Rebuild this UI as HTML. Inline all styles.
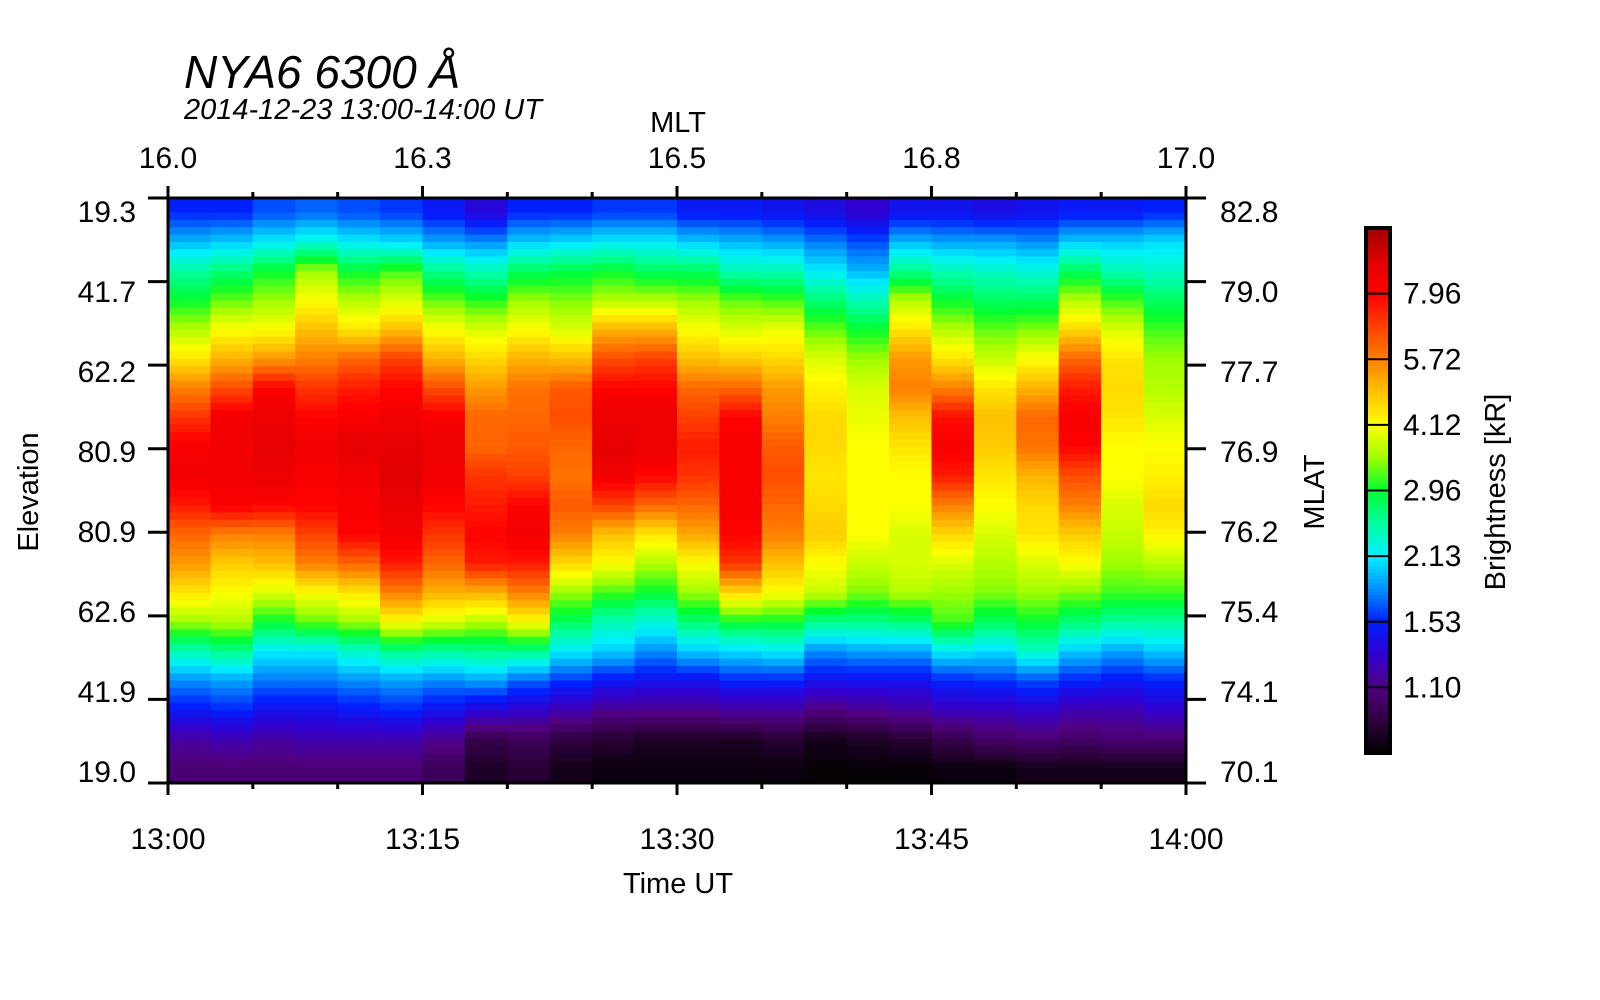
<!DOCTYPE html>
<html><head><meta charset="utf-8"><style>
body{margin:0;background:#fff;}
svg{display:block;font-family:"Liberation Sans",sans-serif;}
</style></head><body>
<svg id="chart" width="1600" height="1000" viewBox="0 0 1600 1000" xmlns="http://www.w3.org/2000/svg">
<text x="184" y="88" font-size="46" font-style="italic">NYA6 6300 Å</text>
<text x="184" y="119" font-size="29" font-style="italic">2014-12-23 13:00-14:00 UT</text>
<text x="678" y="132" font-size="29" text-anchor="middle">MLT</text>
<text x="678" y="893" font-size="29" text-anchor="middle">Time UT</text>
<text transform="translate(38,492) rotate(-90)" font-size="29" text-anchor="middle">Elevation</text>
<text transform="translate(1324,492) rotate(-90)" font-size="29" text-anchor="middle">MLAT</text>
<text transform="translate(1505,492) rotate(-90)" font-size="29" text-anchor="middle">Brightness [kR]</text>
<g id="cells"></g>
<g id="axes"></g>
<g id="cbar"></g>
</svg>
<script>
const timeMinutes = [0,2.5,5,7.5,10,12.5,15,17.5,20,22.5,25,27.5,30,32.5,35,37.5,40,42.5,45,47.5,50,52.5,55,57.5];
const bottomTickLabels = ["13:00","13:15","13:30","13:45","14:00"];
const topTickLabels = ["16.0","16.3","16.5","16.8","17.0"];
const elevationLabels = ["19.3","41.7","62.2","80.9","80.9","62.6","41.9","19.0"];
const mlatLabels = ["82.8","79.0","77.7","76.9","76.2","75.4","74.1","70.1"];
const colorbarLabels = ["7.96","5.72","4.12","2.96","2.13","1.53","1.10"];
// brightness level (colorbar position 0..8) per time column, rows top->bottom
const levels = [
[2.0,2.7,3.5,4.0,4.6,5.2,6.0,6.6,7.1,7.2,6.8,6.2,5.8,5.2,4.5,3.4,2.5,1.9,1.2,0.9],
[2.0,2.8,3.7,4.3,5.0,5.6,6.4,7.2,7.2,7.2,7.1,6.0,5.4,5.0,4.6,3.6,2.6,2.0,1.3,0.9],
[2.2,3.0,4.0,4.5,5.0,5.8,7.0,7.3,7.4,7.3,7.0,6.0,5.5,4.8,4.0,3.0,2.4,1.8,1.2,0.9],
[2.3,3.2,4.5,5.0,5.5,6.0,6.6,7.0,7.2,7.1,7.0,6.5,6.0,5.0,4.3,3.0,2.4,1.8,1.3,0.9],
[2.2,3.0,4.0,4.6,5.2,6.2,6.8,7.1,7.4,7.2,7.1,7.0,6.2,5.2,4.5,3.3,2.5,1.9,1.3,0.9],
[2.1,2.9,4.2,4.8,5.5,6.5,7.0,7.2,7.4,7.5,7.3,7.2,6.8,6.0,5.0,3.6,2.6,2.0,1.3,0.9],
[1.9,2.6,3.6,4.3,5.0,5.6,6.4,7.1,7.3,7.2,7.0,6.6,6.2,5.6,4.8,3.5,2.5,1.8,1.1,0.7],
[1.6,2.5,3.4,4.1,4.8,5.3,5.8,6.2,6.2,6.6,6.8,7.0,6.8,5.6,4.6,3.6,2.6,1.6,0.6,0.3],
[2.0,2.8,3.8,4.5,5.0,5.6,6.1,6.2,6.3,6.5,7.0,7.2,6.8,6.0,5.0,3.6,2.3,1.5,0.7,0.4],
[2.0,2.9,3.9,4.4,4.8,5.5,6.3,6.4,6.2,6.1,6.3,6.0,5.3,4.5,3.8,3.0,2.1,1.3,0.5,0.2],
[2.1,3.0,4.0,4.6,5.6,6.4,7.0,7.3,7.4,7.2,6.5,5.5,5.0,4.2,3.4,2.8,1.9,1.1,0.4,0.1],
[2.1,3.0,3.8,4.6,5.6,6.5,7.0,7.3,7.3,7.0,6.2,5.2,4.6,4.0,3.2,2.5,1.8,1.1,0.3,0.1],
[1.9,2.8,3.8,4.5,5.0,5.5,6.2,6.5,6.8,6.6,6.2,5.7,5.0,4.5,3.7,2.8,1.8,1.1,0.3,0.1],
[1.9,2.7,3.4,4.3,4.8,5.4,6.2,7.0,7.1,7.1,7.1,7.0,6.6,5.3,4.0,2.9,2.0,1.2,0.3,0.1],
[1.8,2.6,3.4,4.2,4.9,5.3,5.8,6.0,6.3,6.4,6.2,6.0,5.5,5.0,4.0,3.0,2.0,1.2,0.4,0.1],
[1.7,2.4,3.0,3.7,4.3,4.8,5.1,5.3,5.3,5.2,5.3,5.4,5.0,4.7,3.6,2.5,1.8,1.0,0.2,0.05],
[1.5,2.2,2.7,3.4,4.0,4.5,4.8,4.9,5.0,5.0,5.0,5.0,4.7,4.4,3.6,2.6,1.8,1.1,0.3,0.05],
[1.8,2.7,3.6,4.6,5.2,5.8,6.0,5.5,5.2,5.0,5.0,4.8,4.8,4.6,3.7,2.6,1.8,1.2,0.4,0.05],
[1.8,2.6,3.4,4.0,4.6,5.2,6.0,6.9,7.1,6.8,6.0,5.3,4.8,4.5,4.2,3.0,2.0,1.4,0.6,0.1],
[1.7,2.6,3.3,3.8,4.3,4.7,5.2,5.5,5.4,5.2,5.0,4.8,4.6,4.4,3.8,2.9,2.1,1.4,0.8,0.1],
[1.8,2.5,3.2,3.8,4.4,5.0,5.6,6.2,6.1,5.6,5.3,5.2,4.8,4.5,4.0,3.3,2.2,1.5,0.9,0.2],
[1.9,2.8,3.8,4.6,5.3,6.2,6.8,7.1,7.0,6.4,6.0,5.4,5.0,4.4,3.7,2.8,2.0,1.3,0.8,0.2],
[1.9,2.8,3.4,4.2,4.8,5.2,5.3,5.2,5.0,5.0,4.8,4.7,4.5,4.2,3.5,2.6,1.9,1.3,0.9,0.2],
[2.0,2.9,3.3,3.8,4.2,4.5,4.6,4.8,5.0,5.1,5.3,5.1,4.6,4.2,3.5,2.8,2.0,1.5,0.9,0.2]
];
const NS="http://www.w3.org/2000/svg";
const X0=168,X1=1186,Y0=198,Y1=783,NROWS=20;
function xScale(m){return X0+m/60*(X1-X0);}
function yScale(r){return Y0+r/NROWS*(Y1-Y0);}
const stops=[[0,[0,0,0]],[0.5,[48,0,64]],[1,[80,0,128]],[1.5,[48,0,208]],[2,[0,32,255]],[2.5,[0,144,255]],[3,[0,240,255]],[3.5,[0,255,160]],[4,[0,255,48]],[4.5,[160,255,0]],[5,[255,255,0]],[5.5,[255,192,0]],[6,[255,128,0]],[6.5,[255,64,0]],[7,[255,0,0]],[7.5,[224,0,0]],[8,[160,0,0]]];
function color(v){v=Math.max(0,Math.min(8,v));for(let i=1;i<stops.length;i++){if(v<=stops[i][0]){const a=stops[i-1],b=stops[i];const t=(v-a[0])/(b[0]-a[0]);const c=a[1].map((x,k)=>Math.round(x+(b[1][k]-x)*t));return `rgb(${c[0]},${c[1]},${c[2]})`;}}return 'rgb(160,0,0)';}
function mk(tag,attrs,parent){const e=document.createElementNS(NS,tag);for(const k in attrs)e.setAttribute(k,attrs[k]);parent.appendChild(e);return e;}
const cells=document.getElementById('cells');
const SUB=4,dt=2.5;
timeMinutes.forEach((m,ci)=>{
  const col=levels[ci];
  const xa=xScale(m),xb=xScale(m+dt);
  for(let r=0;r<NROWS;r++){
    for(let s=0;s<SUB;s++){
      const pos=r+(s+0.5)/SUB-0.5;
      const i0=Math.max(0,Math.min(NROWS-1,Math.floor(pos))),i1=Math.min(NROWS-1,i0+1);
      const t=Math.max(0,Math.min(1,pos-i0));
      const v=col[i0]+(col[i1]-col[i0])*t;
      const ya=yScale(r+s/SUB),yb=yScale(r+(s+1)/SUB);
      const rc=mk('rect',{x:xa.toFixed(2),y:ya.toFixed(2),width:(xb-xa+0.6).toFixed(2),height:(yb-ya+0.6).toFixed(2),fill:color(v)},cells);
      
      
    }
  }
});
const axes=document.getElementById('axes');
mk('rect',{x:X0,y:Y0,width:X1-X0,height:Y1-Y0,fill:'none',stroke:'#000','stroke-width':3},axes);
for(let m=0;m<=60;m+=5){
  const x=xScale(m),major=m%15===0,len=major?12:6;
  mk('line',{x1:x,y1:Y0,x2:x,y2:Y0-len,stroke:'#000','stroke-width':3},axes);
  mk('line',{x1:x,y1:Y1,x2:x,y2:Y1+len,stroke:'#000','stroke-width':3},axes);
}
bottomTickLabels.forEach((l,i)=>{const t=mk('text',{x:xScale(i*15),y:849,'font-size':30,'text-anchor':'middle'},axes);t.textContent=l;

});
topTickLabels.forEach((l,i)=>{const t=mk('text',{x:xScale(i*15),y:168,'font-size':30,'text-anchor':'middle'},axes);t.textContent=l;

});
for(let k=0;k<8;k++){
  const y=Y0+k*(Y1-Y0)/7;
  mk('line',{x1:X0-20,y1:y,x2:X0,y2:y,stroke:'#000','stroke-width':3},axes);
  mk('line',{x1:X1,y1:y,x2:X1+20,y2:y,stroke:'#000','stroke-width':3},axes);
  const ly=212+k*80+10;
  const a=mk('text',{x:136,y:ly,'font-size':30,'text-anchor':'end'},axes);a.textContent=elevationLabels[k];
  
  
  const b=mk('text',{x:1220,y:ly,'font-size':30},axes);b.textContent=mlatLabels[k];
  
  
}
const cbar=document.getElementById('cbar');
const CX=1366,CW=24,CY0=228,CY1=753;
const N=160;
for(let i=0;i<N;i++){
  const v=8-(i+0.5)/N*8;
  const y=CY0+i*(CY1-CY0)/N;
  mk('rect',{x:CX,y:y.toFixed(2),width:CW,height:((CY1-CY0)/N+0.6).toFixed(2),fill:color(v)},cbar);
}
for(let k=1;k<8;k++){
  const y=CY0+k*(CY1-CY0)/8;
  mk('line',{x1:CX,y1:y,x2:CX+CW,y2:y,stroke:'#000','stroke-width':2},cbar);
  const t=mk('text',{x:1403,y:y+10,'font-size':30},cbar);t.textContent=colorbarLabels[k-1];
  
  
}
mk('rect',{x:CX,y:CY0,width:CW,height:CY1-CY0,fill:'none',stroke:'#000','stroke-width':4},cbar);
</script>
</body></html>
